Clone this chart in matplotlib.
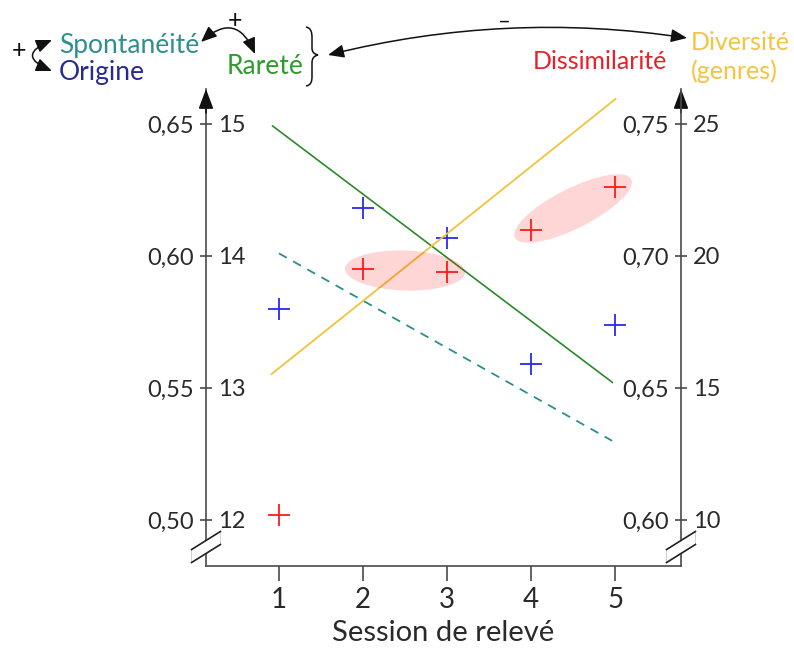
import numpy as np
import matplotlib.pyplot as plt
import matplotlib.transforms as mtransforms
from matplotlib.patches import Ellipse, FancyArrowPatch, PathPatch, Polygon
from matplotlib.path import Path
from matplotlib.lines import Line2D

plt.rcParams['font.family'] = ['Lato', 'DejaVu Sans']

# --- data ---
sessions = [1, 2, 3, 4, 5]
origine = [0.580, 0.618, 0.607, 0.559, 0.574]          # left axis, 0,50-0,65
dissimilarite = [0.602, 0.695, 0.694, 0.710, 0.726]    # right axis, 0,60-0,75

# trend lines (start / end)
spontaneite_x = [1.0, 4.965]
spontaneite = [0.601, 0.530]                           # left axis, 0,50-0,65
rarete_x = [0.925, 4.967]
rarete = [14.985, 13.043]                              # left axis, 12-15
diversite_x = [0.913, 5.006]
diversite = [15.53, 25.95]                             # right axis, 10-25

# grouped dissimilarity points (indices)
groupes = [(1, 2), (3, 4)]

left_out_ticks = [0.50, 0.55, 0.60, 0.65]
left_in_ticks = [12, 13, 14, 15]
right_out_ticks = [0.60, 0.65, 0.70, 0.75]
right_in_ticks = [10, 15, 20, 25]

W, H = 794, 648
axc = '#4a4a4a'
txtc = '#2a2a2a'


def fx(x, y):
    # pixel position -> figure fraction
    return x / W, 1 - y / H


def fmt(v):
    return f"{v:.2f}".replace('.', ',')


u_lo, u_hi = -46 / 132, 431 / 132


def lim(ticks):
    step = ticks[1] - ticks[0]
    return ticks[0] + step * u_lo, ticks[0] + step * u_hi


fig = plt.figure(figsize=(W / 100, H / 100), dpi=100)
ax = fig.add_axes([206 / W, 1 - 566 / H, 475 / W, 477 / H])
ax.set_xlim(1 - 73 / 84.125, 5 + 66 / 84.125)
ax.set_ylim(lim(left_out_ticks))

ax_li = ax.twinx()
ax_ri = ax.twinx()
ax_ro = ax.twinx()
ax_li.set_ylim(lim(left_in_ticks))
ax_ri.set_ylim(lim(right_in_ticks))
ax_ro.set_ylim(lim(right_out_ticks))

# spines
for s in ['top', 'right']:
    ax.spines[s].set_visible(False)
for s in ['left', 'bottom']:
    ax.spines[s].set_color(axc)
    ax.spines[s].set_linewidth(1.2)
for a in (ax_li, ax_ro):
    for s in a.spines.values():
        s.set_visible(False)
for s in ['top', 'left', 'bottom']:
    ax_ri.spines[s].set_visible(False)
ax_ri.spines['right'].set_color(axc)
ax_ri.spines['right'].set_linewidth(1.2)

ax_li.spines['right'].set_position(('axes', 0))
ax_ro.yaxis.tick_left()
ax_ro.spines['left'].set_position(('axes', 1))

# ticks
ax.set_xticks(sessions)
ax.tick_params(axis='x', direction='out', length=11, width=1.2, color=axc,
               labelsize=20, pad=4, labelcolor=txtc)
ax.set_yticks(left_out_ticks, labels=[fmt(v) for v in left_out_ticks])
ax_ro.set_yticks(right_out_ticks, labels=[fmt(v) for v in right_out_ticks])
ax_li.set_yticks(left_in_ticks)
ax_ri.set_yticks(right_in_ticks)
for a in (ax, ax_li, ax_ri, ax_ro):
    a.tick_params(axis='y', direction='out', length=4.5, width=1.2, color=axc,
                  labelsize=17, pad=4, labelcolor=txtc)

ax.set_xlabel('Session de relevé', fontsize=21, color=txtc, labelpad=5)

# arrows at the top of the vertical axes
for xa in (0, 1):
    ax.annotate('', xy=(xa, 1), xytext=(xa, 0.95), xycoords='axes fraction',
                arrowprops=dict(arrowstyle='-|>,head_length=0.8,head_width=0.3',
                                color='#111111', lw=1.2, mutation_scale=15,
                                shrinkA=0, shrinkB=0))

# lines
ax.plot(spontaneite_x, spontaneite, color='#2a8f8f', lw=1.3, dashes=(5, 4))
ax.plot(sessions, origine, ls='none', marker='+', ms=16, mew=1.3, color='#2a2af0')
ax_li.plot(rarete_x, rarete, color='#2a8a2a', lw=1.2)
ax_ri.plot(diversite_x, diversite, color='#f0c43a', lw=1.3)

# pink groups around dissimilarity points
for i, j in groupes:
    cx = (sessions[i] + sessions[j]) / 2
    cy = (dissimilarite[i] + dissimilarite[j]) / 2
    p1 = ax_ro.transData.transform((sessions[i], dissimilarite[i]))
    p2 = ax_ro.transData.transform((sessions[j], dissimilarite[j]))
    ang = np.degrees(np.arctan2(p2[1] - p1[1], p2[0] - p1[0]))
    dist = np.hypot(p2[0] - p1[0], p2[1] - p1[1]) / fig.dpi
    trans = fig.dpi_scale_trans + mtransforms.ScaledTranslation(cx, cy, ax_ro.transData)
    ax_ro.add_patch(Ellipse((0, 0), width=dist + 0.36, height=0.40, angle=ang,
                            transform=trans, facecolor='red', alpha=0.16,
                            lw=0, zorder=1))
ax_ro.plot(sessions, dissimilarite, ls='none', marker='+', ms=16, mew=1.3,
           color='#ff1a1a', zorder=3)

# axis break marks
for bx in (206, 681):
    c = np.array([bx, 547.0])
    d = np.array([np.cos(np.radians(32)), -np.sin(np.radians(32))]) * 17
    off = np.array([0, 6.5])
    corners = [c - d - off, c + d - off, c + d + off, c - d + off]
    fig.add_artist(Polygon([fx(*p) for p in corners], closed=True,
                           transform=fig.transFigure, facecolor='white',
                           edgecolor='#c8c8c8', lw=0.6, zorder=5))
    for sgn in (-1, 1):
        a, b = c - d + sgn * off, c + d + sgn * off
        fig.add_artist(Line2D([fx(*a)[0], fx(*b)[0]], [fx(*a)[1], fx(*b)[1]],
                              transform=fig.transFigure, color='#222222',
                              lw=1.2, zorder=6))

# --- header labels ---
fs = 19
fig.text(*fx(59, 53), 'Spontanéité', color='#2f8f8f', fontsize=fs, va='baseline')
fig.text(*fx(59, 80), 'Origine', color='#2a2a8e', fontsize=fs, va='baseline')
fig.text(*fx(227, 74), 'Rareté', color='#2e9b2e', fontsize=fs, va='baseline')
fig.text(*fx(667, 69), 'Dissimilarité', color='#e8202a', fontsize=18,
         va='baseline', ha='right')
fig.text(*fx(691, 50), 'Diversité', color='#f2c440', fontsize=18, va='baseline')
fig.text(*fx(691, 79), '(genres)', color='#f2c440', fontsize=18, va='baseline')
fig.text(*fx(19, 51), '+', color='#111111', fontsize=18, ha='center', va='center')
fig.text(*fx(235, 20), '+', color='#111111', fontsize=18, ha='center', va='center')
fig.text(*fx(504, 22), '–', color='#111111', fontsize=16, ha='center', va='center')


def arrow(a, b, rad):
    fig.add_artist(FancyArrowPatch(fx(*a), fx(*b), transform=fig.transFigure,
                                   arrowstyle='<|-|>,head_length=0.6,head_width=0.25',
                                   mutation_scale=16, connectionstyle=f'arc3,rad={rad}',
                                   color='#111111', lw=1.1, shrinkA=0, shrinkB=0))


arrow((52, 40), (52, 71), 1.2)
arrow((201, 42), (255, 54), -0.7)
arrow((328, 55), (687, 38), -0.1)

# brace
bp = [(306, 27), (311, 28), (312, 32), (312, 38), (312, 48),
      (312, 52), (314, 54), (318, 55), (314, 56), (312, 58), (312, 63),
      (312, 76), (312, 82), (311, 85), (306, 86)]
codes = [Path.MOVETO, Path.CURVE4, Path.CURVE4, Path.CURVE4, Path.LINETO,
         Path.CURVE4, Path.CURVE4, Path.CURVE4, Path.CURVE4, Path.CURVE4, Path.CURVE4,
         Path.LINETO, Path.CURVE4, Path.CURVE4, Path.CURVE4]
fig.add_artist(PathPatch(Path([fx(*p) for p in bp], codes), transform=fig.transFigure,
                         fill=False, edgecolor='#111111', lw=1.1))

fig.savefig('out.png', dpi=100)
